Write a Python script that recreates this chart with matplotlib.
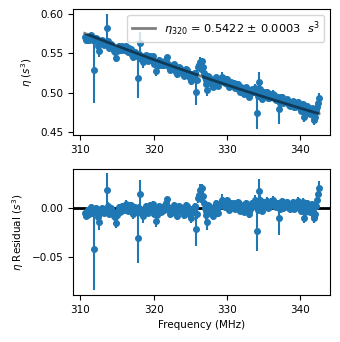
import numpy as np
import matplotlib
matplotlib.use("Agg")
import matplotlib.pyplot as plt

plt.rcParams['font.size'] = 7.5

# fit result (legend value)
eta_320 = 0.5422
eta_320_err = 0.0003

# channel frequencies in MHz: main channels and the in-between channels
freq_a = np.round(np.arange(310.6, 342.65, 0.25), 3)
freq_b = np.round(freq_a[:-1] + 0.125, 3)

# residuals from the fit, in units of 1e-3 s^3
resid_a = [
    -5, -7, -4, -2, -3, -42, 0, -6, -15, -3,
    -1, -4, 18, -2, -5, -3, -8, -16, -4, -1,
    -3, 0, 2, -2, 3, -1, -4, 0, -2, -31,
    14, -5, -8, 0, -3, 1, -2, 3, -6, -14,
    -2, 1, -3, 0, 3, 9, -2, -4, -1, 2,
    -6, -2, 1, -3, -7, 0, 2, -5, -10, -3,
    1, -22, 10, 18, 20, 5, -3, -15, 2, -4,
    -8, 2, 0, -5, 4, 8, 2, 6, 3, -2,
    5, 2, -1, 4, 1, -3, 2, -4, 5, 1,
    -6, 0, 3, 8, -24, 17, 2, -3, 6, 4,
    0, 5, 3, 8, 2, 4, -10, 6, 3, 1,
    5, 2, -1, 4, 2, 0, 5, 2, -3, 6,
    -10, 3, 1, -4, 4, -10, -6, 8, 20,
]
resid_b = [
    -8, -3, -6, 1, -5, -2, -1, -9, -5, 0,
    -5, -1, 2, -6, 0, -4, -9, -7, 1, -4,
    2, -2, 4, -3, 0, 3, -6, 1, -4, 0,
    -2, -3, -5, 2, -5, 3, -1, 4, -3, -7,
    2, -4, 1, -2, 5, 1, -6, 0, 3, -3,
    -8, 2, -2, -5, -3, 3, -2, -7, -1, -4,
    2, -6, 13, 9, 12, 0, -7, 3, -1, -6,
    -2, 5, -3, 2, 3, 7, 1, 8, 0, 4,
    1, 5, 0, 6, -1, 3, -2, 4, 2, -3,
    -1, 5, 2, 6, -2, 8, 0, 4, 2, 7,
    1, 6, 4, 6, 1, 5, -1, 7, 0, 4,
    6, 0, 3, 6, -1, 3, 7, 0, 2, 1,
    -4, 5, -2, 2, -3, -8, 2, 14,
]

# 1-sigma errors, same units
err_a = [
    3, 3, 3, 3, 3, 42, 3, 4, 8, 3,
    3, 3, 17, 3, 3, 3, 4, 5, 3, 3,
    3, 3, 3, 3, 3, 3, 3, 3, 3, 25,
    14, 3, 8, 3, 3, 3, 3, 3, 3, 6,
    3, 3, 3, 3, 3, 2, 3, 3, 3, 3,
    4, 3, 3, 3, 4, 3, 3, 3, 6, 3,
    3, 17, 5, 6, 4, 4, 3, 8, 3, 3,
    5, 3, 3, 4, 3, 6, 3, 3, 3, 3,
    3, 3, 3, 3, 3, 3, 3, 3, 3, 3,
    4, 3, 3, 5, 20, 12, 3, 3, 3, 3,
    3, 3, 3, 4, 3, 3, 18, 3, 3, 3,
    3, 3, 3, 3, 3, 3, 3, 3, 3, 4,
    6, 3, 3, 3, 3, 6, 6, 6, 7,
]
err_b = [
    3, 4, 3, 3, 4, 3, 3, 5, 4, 3,
    3, 3, 4, 3, 3, 3, 5, 4, 3, 3,
    3, 3, 4, 3, 3, 3, 5, 3, 3, 4,
    4, 3, 4, 3, 3, 3, 3, 3, 4, 4,
    3, 3, 3, 4, 3, 3, 4, 3, 3, 3,
    5, 3, 3, 4, 3, 3, 3, 5, 3, 4,
    3, 5, 5, 4, 5, 3, 5, 3, 3, 4,
    3, 3, 4, 3, 3, 4, 3, 3, 3, 3,
    3, 3, 3, 3, 3, 4, 3, 3, 3, 4,
    3, 3, 3, 4, 4, 5, 3, 3, 3, 4,
    3, 4, 3, 3, 3, 3, 4, 3, 3, 3,
    3, 4, 3, 3, 3, 3, 4, 3, 3, 3,
    4, 3, 4, 3, 4, 5, 4, 6,
]

freq = np.concatenate([freq_a, freq_b])
resid = np.array(resid_a + resid_b) * 1e-3
err = np.array(err_a + err_b) * 1e-3

# model: eta scales as f^-2
model = eta_320 * (freq / 320.0) ** -2
eta = model + resid
f_line = np.sort(freq)
model_line = eta_320 * (f_line / 320.0) ** -2

fig = plt.figure(figsize=(3.4, 3.42), dpi=100)
ax1 = fig.add_axes([0.2147, 0.6053, 0.756, 0.3684])
ax2 = fig.add_axes([0.2147, 0.1374, 0.756, 0.3684])

ax1.errorbar(freq, eta, yerr=err, fmt='o', color='C0', markersize=4,
             elinewidth=1.5, capsize=0, zorder=2)
ax1.plot(f_line, model_line, color='k', alpha=0.5, lw=2, zorder=3,
         label=r'$\eta_{320}$ = %.4f $\pm$ %.4f  $s^3$' % (eta_320, eta_320_err))
ax1.legend(loc='upper right', fontsize=8.2, handlelength=2)
ax1.set_ylabel(r'$\eta$ ($s^3$)')
ax1.set_xlim(309.0, 344.1)
ax1.set_ylim(0.446, 0.6065)
ax1.set_yticks([0.45, 0.50, 0.55, 0.60])

ax2.axhline(0, color='k', lw=2, zorder=1)
ax2.errorbar(freq, resid, yerr=err, fmt='o', color='C0', markersize=4,
             elinewidth=1.5, capsize=0, zorder=2)
ax2.set_ylabel(r'$\eta$ Residual ($s^3$)')
ax2.set_xlabel('Frequency (MHz)')
ax2.set_xlim(309.0, 344.1)
ax2.set_ylim(-0.089, 0.0395)
ax2.set_yticks([-0.05, 0.0])

for ax in (ax1, ax2):
    ax.set_xticks([310, 320, 330, 340])

fig.savefig('out.png', dpi=100)
